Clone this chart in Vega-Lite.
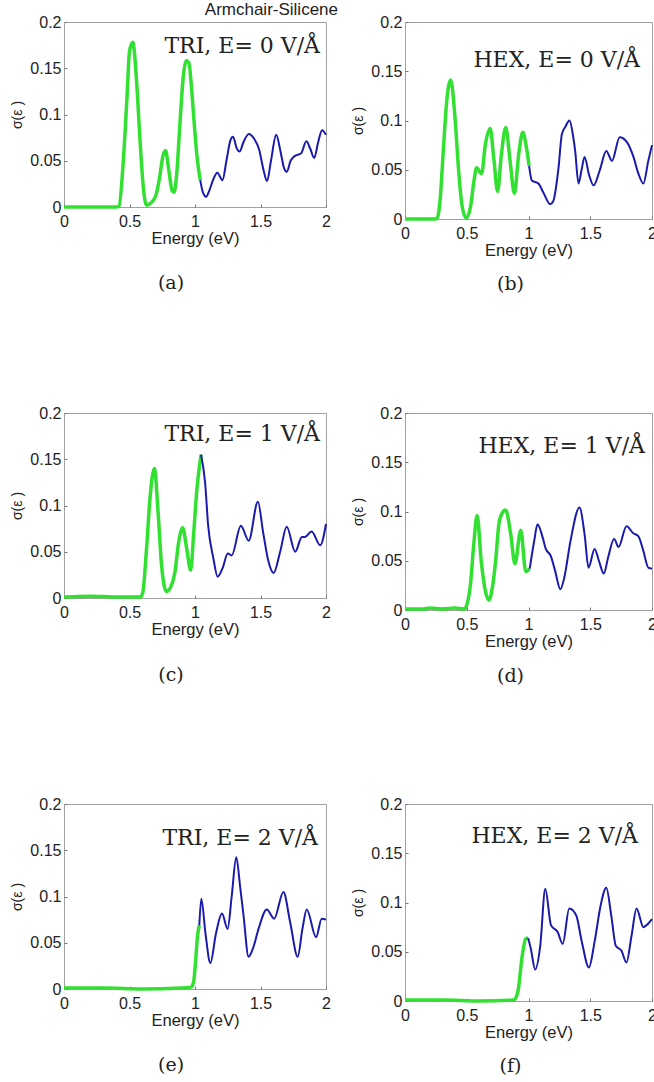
{
  "$schema": "https://vega.github.io/schema/vega-lite/v6.json",
  "padding": {"left": 10, "top": 0, "right": 0, "bottom": 0},
  "background": "white",
  "columns": 2,
  "spacing": {"row": 194, "column": 79},
  "bounds": "flush",
  "datasets": {
    "a": [
      {"E":0,"s":0,"part":"g"},{"E":0.2,"s":0,"part":"g"},{"E":0.4,"s":0,"part":"g"},{"E":0.42,"s":0.001,"part":"g"},{"E":0.45,"s":0.044,"part":"g"},{"E":0.48,"s":0.116,"part":"g"},{"E":0.5,"s":0.168,"part":"g"},{"E":0.525,"s":0.178,"part":"g"},{"E":0.555,"s":0.134,"part":"g"},{"E":0.58,"s":0.073,"part":"g"},{"E":0.605,"s":0.022,"part":"g"},{"E":0.63,"s":0.002,"part":"g"},{"E":0.66,"s":0.004,"part":"g"},{"E":0.7,"s":0.012,"part":"g"},{"E":0.73,"s":0.032,"part":"g"},{"E":0.755,"s":0.055,"part":"g"},{"E":0.775,"s":0.061,"part":"g"},{"E":0.8,"s":0.04,"part":"g"},{"E":0.825,"s":0.018,"part":"g"},{"E":0.84,"s":0.016,"part":"g"},{"E":0.86,"s":0.035,"part":"g"},{"E":0.885,"s":0.09,"part":"g"},{"E":0.91,"s":0.14,"part":"g"},{"E":0.935,"s":0.158,"part":"g"},{"E":0.955,"s":0.155,"part":"g"},{"E":0.97,"s":0.135,"part":"g"},{"E":0.99,"s":0.098,"part":"g"},{"E":1.015,"s":0.055,"part":"g"},{"E":1.04,"s":0.029,"part":"g"},
      {"E":1.04,"s":0.029,"part":"b"},{"E":1.06,"s":0.016,"part":"b"},{"E":1.085,"s":0.011,"part":"b"},{"E":1.11,"s":0.018,"part":"b"},{"E":1.14,"s":0.03,"part":"b"},{"E":1.17,"s":0.037,"part":"b"},{"E":1.21,"s":0.029,"part":"b"},{"E":1.24,"s":0.05,"part":"b"},{"E":1.27,"s":0.072,"part":"b"},{"E":1.29,"s":0.076,"part":"b"},{"E":1.32,"s":0.063,"part":"b"},{"E":1.34,"s":0.06,"part":"b"},{"E":1.37,"s":0.07,"part":"b"},{"E":1.41,"s":0.079,"part":"b"},{"E":1.45,"s":0.074,"part":"b"},{"E":1.49,"s":0.062,"part":"b"},{"E":1.52,"s":0.042,"part":"b"},{"E":1.55,"s":0.028,"part":"b"},{"E":1.58,"s":0.05,"part":"b"},{"E":1.62,"s":0.078,"part":"b"},{"E":1.65,"s":0.062,"part":"b"},{"E":1.68,"s":0.042,"part":"b"},{"E":1.7,"s":0.038,"part":"b"},{"E":1.73,"s":0.05,"part":"b"},{"E":1.76,"s":0.055,"part":"b"},{"E":1.81,"s":0.058,"part":"b"},{"E":1.85,"s":0.071,"part":"b"},{"E":1.88,"s":0.063,"part":"b"},{"E":1.91,"s":0.053,"part":"b"},{"E":1.94,"s":0.07,"part":"b"},{"E":1.97,"s":0.083,"part":"b"},{"E":2.0,"s":0.078,"part":"b"}
    ],
    "b": [
      {"E":0,"s":0,"part":"g"},{"E":0.25,"s":0,"part":"g"},{"E":0.265,"s":0.002,"part":"g"},{"E":0.284,"s":0.019,"part":"g"},{"E":0.31,"s":0.069,"part":"g"},{"E":0.338,"s":0.12,"part":"g"},{"E":0.37,"s":0.141,"part":"g"},{"E":0.405,"s":0.103,"part":"g"},{"E":0.432,"s":0.053,"part":"g"},{"E":0.46,"s":0.015,"part":"g"},{"E":0.495,"s":0.001,"part":"g"},{"E":0.53,"s":0.012,"part":"g"},{"E":0.56,"s":0.04,"part":"g"},{"E":0.58,"s":0.052,"part":"g"},{"E":0.62,"s":0.046,"part":"g"},{"E":0.65,"s":0.075,"part":"g"},{"E":0.69,"s":0.092,"part":"g"},{"E":0.72,"s":0.06,"part":"g"},{"E":0.75,"s":0.028,"part":"g"},{"E":0.78,"s":0.065,"part":"g"},{"E":0.816,"s":0.093,"part":"g"},{"E":0.85,"s":0.06,"part":"g"},{"E":0.886,"s":0.026,"part":"g"},{"E":0.92,"s":0.065,"part":"g"},{"E":0.954,"s":0.088,"part":"g"},{"E":0.98,"s":0.075,"part":"g"},{"E":1.005,"s":0.054,"part":"g"},
      {"E":1.005,"s":0.054,"part":"b"},{"E":1.027,"s":0.039,"part":"b"},{"E":1.08,"s":0.036,"part":"b"},{"E":1.12,"s":0.027,"part":"b"},{"E":1.176,"s":0.015,"part":"b"},{"E":1.2,"s":0.018,"part":"b"},{"E":1.243,"s":0.052,"part":"b"},{"E":1.27,"s":0.086,"part":"b"},{"E":1.3,"s":0.094,"part":"b"},{"E":1.332,"s":0.1,"part":"b"},{"E":1.36,"s":0.085,"part":"b"},{"E":1.378,"s":0.069,"part":"b"},{"E":1.405,"s":0.036,"part":"b"},{"E":1.43,"s":0.05,"part":"b"},{"E":1.454,"s":0.063,"part":"b"},{"E":1.49,"s":0.045,"part":"b"},{"E":1.527,"s":0.034,"part":"b"},{"E":1.576,"s":0.049,"part":"b"},{"E":1.63,"s":0.069,"part":"b"},{"E":1.676,"s":0.059,"part":"b"},{"E":1.738,"s":0.083,"part":"b"},{"E":1.797,"s":0.078,"part":"b"},{"E":1.85,"s":0.063,"part":"b"},{"E":1.89,"s":0.046,"part":"b"},{"E":1.93,"s":0.036,"part":"b"},{"E":1.97,"s":0.059,"part":"b"},{"E":2.0,"s":0.075,"part":"b"}
    ],
    "c": [
      {"E":0,"s":0.001,"part":"g"},{"E":0.2,"s":0.002,"part":"g"},{"E":0.4,"s":0.001,"part":"g"},{"E":0.58,"s":0.001,"part":"g"},{"E":0.6,"s":0.005,"part":"g"},{"E":0.63,"s":0.053,"part":"g"},{"E":0.656,"s":0.107,"part":"g"},{"E":0.69,"s":0.14,"part":"g"},{"E":0.72,"s":0.089,"part":"g"},{"E":0.745,"s":0.035,"part":"g"},{"E":0.783,"s":0.007,"part":"g"},{"E":0.815,"s":0.012,"part":"g"},{"E":0.847,"s":0.028,"part":"g"},{"E":0.875,"s":0.06,"part":"g"},{"E":0.906,"s":0.076,"part":"g"},{"E":0.935,"s":0.055,"part":"g"},{"E":0.967,"s":0.03,"part":"g"},{"E":0.99,"s":0.07,"part":"g"},{"E":1.013,"s":0.115,"part":"g"},{"E":1.046,"s":0.155,"part":"g"},
      {"E":1.046,"s":0.155,"part":"b"},{"E":1.077,"s":0.125,"part":"b"},{"E":1.1,"s":0.079,"part":"b"},{"E":1.14,"s":0.043,"part":"b"},{"E":1.173,"s":0.023,"part":"b"},{"E":1.21,"s":0.032,"part":"b"},{"E":1.25,"s":0.048,"part":"b"},{"E":1.28,"s":0.046,"part":"b"},{"E":1.35,"s":0.078,"part":"b"},{"E":1.41,"s":0.062,"part":"b"},{"E":1.48,"s":0.104,"part":"b"},{"E":1.52,"s":0.071,"part":"b"},{"E":1.56,"s":0.04,"part":"b"},{"E":1.6,"s":0.027,"part":"b"},{"E":1.65,"s":0.05,"part":"b"},{"E":1.7,"s":0.077,"part":"b"},{"E":1.765,"s":0.05,"part":"b"},{"E":1.816,"s":0.066,"part":"b"},{"E":1.84,"s":0.066,"part":"b"},{"E":1.89,"s":0.072,"part":"b"},{"E":1.956,"s":0.057,"part":"b"},{"E":2.0,"s":0.08,"part":"b"}
    ],
    "d": [
      {"E":0,"s":0.001,"part":"g"},{"E":0.15,"s":0.001,"part":"g"},{"E":0.2,"s":0.002,"part":"g"},{"E":0.3,"s":0.001,"part":"g"},{"E":0.4,"s":0.002,"part":"g"},{"E":0.48,"s":0.001,"part":"g"},{"E":0.5,"s":0.005,"part":"g"},{"E":0.53,"s":0.026,"part":"g"},{"E":0.557,"s":0.067,"part":"g"},{"E":0.584,"s":0.096,"part":"g"},{"E":0.617,"s":0.05,"part":"g"},{"E":0.65,"s":0.02,"part":"g"},{"E":0.68,"s":0.01,"part":"g"},{"E":0.71,"s":0.025,"part":"g"},{"E":0.734,"s":0.05,"part":"g"},{"E":0.76,"s":0.087,"part":"g"},{"E":0.785,"s":0.098,"part":"g"},{"E":0.815,"s":0.1015,"part":"g"},{"E":0.856,"s":0.077,"part":"g"},{"E":0.89,"s":0.047,"part":"g"},{"E":0.9375,"s":0.081,"part":"g"},{"E":0.978,"s":0.039,"part":"g"},{"E":1.01,"s":0.042,"part":"g"},
      {"E":1.01,"s":0.042,"part":"b"},{"E":1.046,"s":0.07,"part":"b"},{"E":1.073,"s":0.087,"part":"b"},{"E":1.114,"s":0.074,"part":"b"},{"E":1.14,"s":0.062,"part":"b"},{"E":1.18,"s":0.055,"part":"b"},{"E":1.215,"s":0.04,"part":"b"},{"E":1.258,"s":0.021,"part":"b"},{"E":1.29,"s":0.033,"part":"b"},{"E":1.34,"s":0.07,"part":"b"},{"E":1.413,"s":0.104,"part":"b"},{"E":1.454,"s":0.077,"part":"b"},{"E":1.486,"s":0.043,"part":"b"},{"E":1.535,"s":0.062,"part":"b"},{"E":1.57,"s":0.05,"part":"b"},{"E":1.61,"s":0.037,"part":"b"},{"E":1.644,"s":0.053,"part":"b"},{"E":1.693,"s":0.072,"part":"b"},{"E":1.73,"s":0.064,"part":"b"},{"E":1.793,"s":0.085,"part":"b"},{"E":1.848,"s":0.078,"part":"b"},{"E":1.889,"s":0.075,"part":"b"},{"E":1.93,"s":0.06,"part":"b"},{"E":1.97,"s":0.043,"part":"b"},{"E":2.0,"s":0.042,"part":"b"}
    ],
    "e": [
      {"E":0,"s":0.001,"part":"g"},{"E":0.3,"s":0.001,"part":"g"},{"E":0.6,"s":0.0,"part":"g"},{"E":0.9,"s":0.001,"part":"g"},{"E":0.97,"s":0.002,"part":"g"},{"E":0.99,"s":0.008,"part":"g"},{"E":1.0,"s":0.022,"part":"g"},{"E":1.02,"s":0.058,"part":"g"},{"E":1.033,"s":0.069,"part":"g"},
      {"E":1.033,"s":0.069,"part":"b"},{"E":1.048,"s":0.0977,"part":"b"},{"E":1.08,"s":0.06,"part":"b"},{"E":1.117,"s":0.028,"part":"b"},{"E":1.16,"s":0.06,"part":"b"},{"E":1.206,"s":0.0815,"part":"b"},{"E":1.249,"s":0.065,"part":"b"},{"E":1.28,"s":0.1,"part":"b"},{"E":1.315,"s":0.1425,"part":"b"},{"E":1.345,"s":0.11,"part":"b"},{"E":1.37,"s":0.08,"part":"b"},{"E":1.409,"s":0.035,"part":"b"},{"E":1.445,"s":0.045,"part":"b"},{"E":1.485,"s":0.065,"part":"b"},{"E":1.548,"s":0.086,"part":"b"},{"E":1.604,"s":0.076,"part":"b"},{"E":1.675,"s":0.105,"part":"b"},{"E":1.726,"s":0.0725,"part":"b"},{"E":1.784,"s":0.035,"part":"b"},{"E":1.82,"s":0.065,"part":"b"},{"E":1.853,"s":0.086,"part":"b"},{"E":1.924,"s":0.056,"part":"b"},{"E":1.967,"s":0.076,"part":"b"},{"E":2.0,"s":0.075,"part":"b"}
    ],
    "f": [
      {"E":0,"s":0.001,"part":"g"},{"E":0.3,"s":0.001,"part":"g"},{"E":0.6,"s":0.0,"part":"g"},{"E":0.88,"s":0.001,"part":"g"},{"E":0.9,"s":0.004,"part":"g"},{"E":0.918,"s":0.012,"part":"g"},{"E":0.946,"s":0.043,"part":"g"},{"E":0.978,"s":0.063,"part":"g"},{"E":0.997,"s":0.064,"part":"g"},
      {"E":0.997,"s":0.064,"part":"b"},{"E":1.019,"s":0.053,"part":"b"},{"E":1.054,"s":0.032,"part":"b"},{"E":1.095,"s":0.056,"part":"b"},{"E":1.136,"s":0.114,"part":"b"},{"E":1.182,"s":0.077,"part":"b"},{"E":1.236,"s":0.07,"part":"b"},{"E":1.277,"s":0.058,"part":"b"},{"E":1.33,"s":0.094,"part":"b"},{"E":1.386,"s":0.087,"part":"b"},{"E":1.432,"s":0.06,"part":"b"},{"E":1.489,"s":0.034,"part":"b"},{"E":1.535,"s":0.06,"part":"b"},{"E":1.584,"s":0.097,"part":"b"},{"E":1.63,"s":0.115,"part":"b"},{"E":1.67,"s":0.087,"part":"b"},{"E":1.707,"s":0.056,"part":"b"},{"E":1.753,"s":0.051,"part":"b"},{"E":1.793,"s":0.039,"part":"b"},{"E":1.834,"s":0.066,"part":"b"},{"E":1.875,"s":0.094,"part":"b"},{"E":1.93,"s":0.075,"part":"b"},{"E":1.965,"s":0.078,"part":"b"},{"E":2.0,"s":0.083,"part":"b"}
    ]
  },
  "concat": [
    {
      "width": 262, "height": 185,
      "title": {"text": "(a)", "orient": "bottom", "frame": "group", "dx": -24, "offset": 27},
      "layer": [
        {"data": {"name": "a"}, "transform": [{"filter": "datum.part == 'g'"}], "mark": {"type": "line", "interpolate": "monotone", "color": "#32e032", "strokeWidth": 3.5},
         "encoding": {"x": {"field": "E", "type": "quantitative", "scale": {"domain": [0, 2], "nice": false}, "axis": {"title": "Energy (eV)", "values": [0, 0.5, 1, 1.5, 2], "format": "~g"}},
                      "y": {"field": "s", "type": "quantitative", "scale": {"domain": [0, 0.2], "nice": false}, "axis": {"title": "σ(ε )", "values": [0, 0.05, 0.1, 0.15, 0.2], "format": "~g"}}}},
        {"data": {"name": "a"}, "transform": [{"filter": "datum.part == 'b'"}], "mark": {"type": "line", "interpolate": "monotone", "color": "#1a1aad", "strokeWidth": 2},
         "encoding": {"x": {"field": "E", "type": "quantitative"}, "y": {"field": "s", "type": "quantitative"}}},
        {"data": {"values": [{"label": "TRI, E= 0 V/Å"}]}, "mark": {"type": "text", "align": "right", "baseline": "alphabetic", "dx": -6, "dy": 31, "font": "DejaVu Serif", "fontSize": 22, "color": "#222"}, "encoding": {"x": {"datum": 2}, "y": {"datum": 0.2}, "text": {"field": "label"}}},
        {"data": {"values": [{"label": "Armchair-Silicene"}]}, "mark": {"type": "text", "align": "right", "baseline": "alphabetic", "dx": 12, "dy": -7, "font": "Liberation Sans", "fontSize": 17, "color": "#222"}, "encoding": {"x": {"datum": 2}, "y": {"datum": 0.2}, "text": {"field": "label"}}}
      ]
    },
    {
      "width": 247, "height": 197,
      "title": {"text": "(b)", "orient": "bottom", "frame": "group", "dx": -18, "offset": 16},
      "layer": [
        {"data": {"name": "b"}, "transform": [{"filter": "datum.part == 'g'"}], "mark": {"type": "line", "interpolate": "monotone", "color": "#32e032", "strokeWidth": 3.5},
         "encoding": {"x": {"field": "E", "type": "quantitative", "scale": {"domain": [0, 2], "nice": false}, "axis": {"title": "Energy (eV)", "values": [0, 0.5, 1, 1.5, 2], "format": "~g"}},
                      "y": {"field": "s", "type": "quantitative", "scale": {"domain": [0, 0.2], "nice": false}, "axis": {"title": "σ(ε )", "values": [0, 0.05, 0.1, 0.15, 0.2], "format": "~g"}}}},
        {"data": {"name": "b"}, "transform": [{"filter": "datum.part == 'b'"}], "mark": {"type": "line", "interpolate": "monotone", "color": "#1a1aad", "strokeWidth": 2},
         "encoding": {"x": {"field": "E", "type": "quantitative"}, "y": {"field": "s", "type": "quantitative"}}},
        {"data": {"values": [{"label": "HEX, E= 0 V/Å"}]}, "mark": {"type": "text", "align": "right", "baseline": "alphabetic", "dx": -12, "dy": 45, "font": "DejaVu Serif", "fontSize": 22, "color": "#222"}, "encoding": {"x": {"datum": 2}, "y": {"datum": 0.2}, "text": {"field": "label"}}}
      ]
    },
    {
      "width": 262, "height": 185,
      "title": {"text": "(c)", "orient": "bottom", "frame": "group", "dx": -24, "offset": 28},
      "layer": [
        {"data": {"name": "c"}, "transform": [{"filter": "datum.part == 'g'"}], "mark": {"type": "line", "interpolate": "monotone", "color": "#32e032", "strokeWidth": 3.5},
         "encoding": {"x": {"field": "E", "type": "quantitative", "scale": {"domain": [0, 2], "nice": false}, "axis": {"title": "Energy (eV)", "values": [0, 0.5, 1, 1.5, 2], "format": "~g"}},
                      "y": {"field": "s", "type": "quantitative", "scale": {"domain": [0, 0.2], "nice": false}, "axis": {"title": "σ(ε )", "values": [0, 0.05, 0.1, 0.15, 0.2], "format": "~g"}}}},
        {"data": {"name": "c"}, "transform": [{"filter": "datum.part == 'b'"}], "mark": {"type": "line", "interpolate": "monotone", "color": "#1a1aad", "strokeWidth": 2},
         "encoding": {"x": {"field": "E", "type": "quantitative"}, "y": {"field": "s", "type": "quantitative"}}},
        {"data": {"values": [{"label": "TRI, E= 1 V/Å"}]}, "mark": {"type": "text", "align": "right", "baseline": "alphabetic", "dx": -6, "dy": 28, "font": "DejaVu Serif", "fontSize": 22, "color": "#222"}, "encoding": {"x": {"datum": 2}, "y": {"datum": 0.2}, "text": {"field": "label"}}}
      ]
    },
    {
      "width": 247, "height": 197,
      "title": {"text": "(d)", "orient": "bottom", "frame": "group", "dx": -18, "offset": 17},
      "layer": [
        {"data": {"name": "d"}, "transform": [{"filter": "datum.part == 'g'"}], "mark": {"type": "line", "interpolate": "monotone", "color": "#32e032", "strokeWidth": 3.5},
         "encoding": {"x": {"field": "E", "type": "quantitative", "scale": {"domain": [0, 2], "nice": false}, "axis": {"title": "Energy (eV)", "values": [0, 0.5, 1, 1.5, 2], "format": "~g"}},
                      "y": {"field": "s", "type": "quantitative", "scale": {"domain": [0, 0.2], "nice": false}, "axis": {"title": "σ(ε )", "values": [0, 0.05, 0.1, 0.15, 0.2], "format": "~g"}}}},
        {"data": {"name": "d"}, "transform": [{"filter": "datum.part == 'b'"}], "mark": {"type": "line", "interpolate": "monotone", "color": "#1a1aad", "strokeWidth": 2},
         "encoding": {"x": {"field": "E", "type": "quantitative"}, "y": {"field": "s", "type": "quantitative"}}},
        {"data": {"values": [{"label": "HEX, E= 1 V/Å"}]}, "mark": {"type": "text", "align": "right", "baseline": "alphabetic", "dx": -7, "dy": 40, "font": "DejaVu Serif", "fontSize": 22, "color": "#222"}, "encoding": {"x": {"datum": 2}, "y": {"datum": 0.2}, "text": {"field": "label"}}}
      ]
    },
    {
      "width": 262, "height": 185,
      "title": {"text": "(e)", "orient": "bottom", "frame": "group", "dx": -24, "offset": 27},
      "layer": [
        {"data": {"name": "e"}, "transform": [{"filter": "datum.part == 'g'"}], "mark": {"type": "line", "interpolate": "monotone", "color": "#32e032", "strokeWidth": 3.5},
         "encoding": {"x": {"field": "E", "type": "quantitative", "scale": {"domain": [0, 2], "nice": false}, "axis": {"title": "Energy (eV)", "values": [0, 0.5, 1, 1.5, 2], "format": "~g"}},
                      "y": {"field": "s", "type": "quantitative", "scale": {"domain": [0, 0.2], "nice": false}, "axis": {"title": "σ(ε )", "values": [0, 0.05, 0.1, 0.15, 0.2], "format": "~g"}}}},
        {"data": {"name": "e"}, "transform": [{"filter": "datum.part == 'b'"}], "mark": {"type": "line", "interpolate": "monotone", "color": "#1a1aad", "strokeWidth": 2},
         "encoding": {"x": {"field": "E", "type": "quantitative"}, "y": {"field": "s", "type": "quantitative"}}},
        {"data": {"values": [{"label": "TRI, E= 2 V/Å"}]}, "mark": {"type": "text", "align": "right", "baseline": "alphabetic", "dx": -8, "dy": 41, "font": "DejaVu Serif", "fontSize": 22, "color": "#222"}, "encoding": {"x": {"datum": 2}, "y": {"datum": 0.2}, "text": {"field": "label"}}}
      ]
    },
    {
      "width": 247, "height": 197,
      "title": {"text": "(f)", "orient": "bottom", "frame": "group", "dx": -18, "offset": 16},
      "layer": [
        {"data": {"name": "f"}, "transform": [{"filter": "datum.part == 'g'"}], "mark": {"type": "line", "interpolate": "monotone", "color": "#32e032", "strokeWidth": 3.5},
         "encoding": {"x": {"field": "E", "type": "quantitative", "scale": {"domain": [0, 2], "nice": false}, "axis": {"title": "Energy (eV)", "values": [0, 0.5, 1, 1.5, 2], "format": "~g"}},
                      "y": {"field": "s", "type": "quantitative", "scale": {"domain": [0, 0.2], "nice": false}, "axis": {"title": "σ(ε )", "values": [0, 0.05, 0.1, 0.15, 0.2], "format": "~g"}}}},
        {"data": {"name": "f"}, "transform": [{"filter": "datum.part == 'b'"}], "mark": {"type": "line", "interpolate": "monotone", "color": "#1a1aad", "strokeWidth": 2},
         "encoding": {"x": {"field": "E", "type": "quantitative"}, "y": {"field": "s", "type": "quantitative"}}},
        {"data": {"values": [{"label": "HEX, E= 2 V/Å"}]}, "mark": {"type": "text", "align": "right", "baseline": "alphabetic", "dx": -14, "dy": 39, "font": "DejaVu Serif", "fontSize": 22, "color": "#222"}, "encoding": {"x": {"datum": 2}, "y": {"datum": 0.2}, "text": {"field": "label"}}}
      ]
    }
  ],
  "config": {
    "view": {"stroke": "#a0a0a0", "strokeWidth": 1},
    "axis": {"domain": false, "ticks": true, "tickSize": -3, "tickColor": "#777", "grid": false, "labelFont": "Liberation Sans", "labelFontSize": 16, "labelColor": "#222", "labelPadding": 9, "labelFlush": false, "labelOverlap": false, "titleFont": "Liberation Sans", "titleFontWeight": "normal", "titleColor": "#222"},
    "axisX": {"titleFontSize": 16.5, "titlePadding": 1},
    "axisY": {"titleFontSize": 14, "titlePadding": 5, "labelPadding": 6},
    "title": {"font": "DejaVu Serif", "fontSize": 19, "fontWeight": "normal", "color": "#222"}
  }
}
